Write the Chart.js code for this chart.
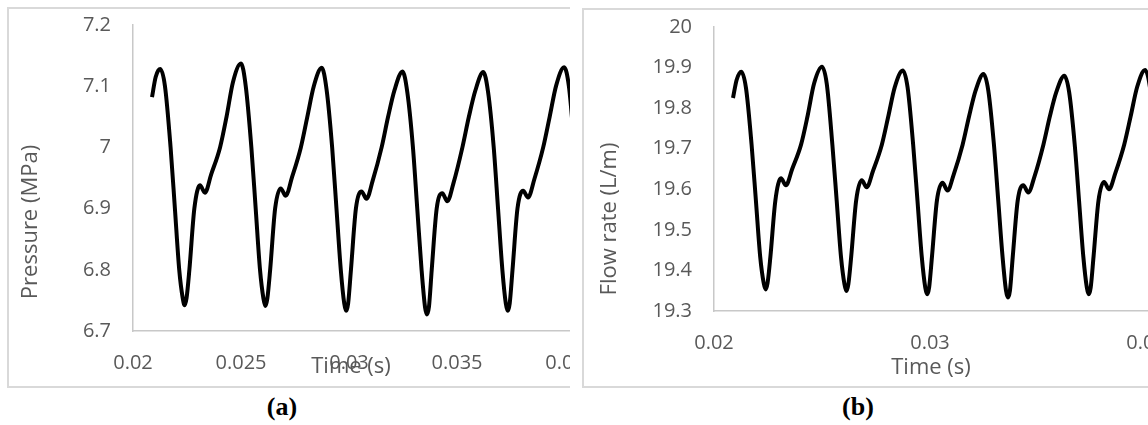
<!DOCTYPE html>
<html>
<head>
<meta charset="utf-8">
<script src="https://cdn.jsdelivr.net/npm/chart.js@4.4.1/dist/chart.umd.min.js"></script>
<style>
body { margin:0; width:1148px; height:425px; background:#fff; position:relative; overflow:hidden; }
.panel { position:absolute; border:2px solid #d9d9d9; box-sizing:border-box; overflow:hidden; }
#panelA { left:7px; top:7px; width:563px; height:381px; border-right:none; }
#panelB { left:582px; top:8px; width:620px; height:380px; border-right:none; }
.panel canvas { position:absolute; left:0; top:0; }
.caption { position:absolute; top:392px; width:80px; text-align:center; font:bold 26px "Liberation Serif", serif; color:#000; }
</style>
</head>
<body>
<div class="panel" id="panelA"><canvas id="chartA" width="620" height="377"></canvas></div>
<div class="panel" id="panelB"><canvas id="chartB" width="620" height="376"></canvas></div>
<div class="caption" style="left:242px">(a)</div>
<div class="caption" style="left:818px">(b)</div>
<script>
// time axis (s), shared by both plots
var timeS = [0.02088, 0.02105, 0.02126, 0.02148, 0.02174, 0.02194, 0.02214, 0.02230, 0.02239, 0.02248, 0.02261, 0.02284, 0.02310, 0.02333, 0.02362, 0.02403, 0.02433, 0.02463,
    0.02500, 0.02522, 0.02548, 0.02568, 0.02588, 0.02604, 0.02613, 0.02622, 0.02635, 0.02658, 0.02684, 0.02707, 0.02736, 0.02777, 0.02807, 0.02837,
    0.02874, 0.02896, 0.02922, 0.02942, 0.02962, 0.02978, 0.02987, 0.02996, 0.03009, 0.03032, 0.03058, 0.03081, 0.03110, 0.03151, 0.03181, 0.03211,
    0.03248, 0.03270, 0.03296, 0.03316, 0.03336, 0.03352, 0.03361, 0.03370, 0.03383, 0.03406, 0.03432, 0.03455, 0.03484, 0.03525, 0.03555, 0.03585,
    0.03622, 0.03644, 0.03670, 0.03690, 0.03710, 0.03726, 0.03735, 0.03744, 0.03757, 0.03780, 0.03806, 0.03829, 0.03858, 0.03899, 0.03929, 0.03959,
    0.03996, 0.04018, 0.04044];

// (a) pressure, MPa
var pressure = [7.082, 7.115, 7.128, 7.10, 7.00, 6.90, 6.80, 6.754, 6.742, 6.754, 6.80, 6.90, 6.938, 6.926, 6.956, 7.00, 7.05, 7.107,
    7.137, 7.10, 7.00, 6.90, 6.80, 6.753, 6.741, 6.753, 6.80, 6.90, 6.933, 6.921, 6.951, 7.00, 7.05, 7.100,
    7.130, 7.095, 7.00, 6.90, 6.80, 6.745, 6.733, 6.745, 6.80, 6.90, 6.928, 6.916, 6.946, 7.00, 7.05, 7.094,
    7.124, 7.09, 7.00, 6.90, 6.80, 6.739, 6.727, 6.739, 6.80, 6.90, 6.925, 6.912, 6.942, 7.00, 7.05, 7.093,
    7.123, 7.09, 7.00, 6.90, 6.80, 6.745, 6.733, 6.745, 6.80, 6.90, 6.929, 6.918, 6.948, 7.00, 7.05, 7.101,
    7.131, 7.10, 7.00];

// (b) flow rate, L/m
var flow = [19.825, 19.870, 19.890, 19.850, 19.710, 19.572, 19.433, 19.369, 19.353, 19.369, 19.433, 19.572, 19.627, 19.610, 19.650, 19.710, 19.780, 19.860,
    19.902, 19.860, 19.710, 19.572, 19.433, 19.366, 19.349, 19.366, 19.433, 19.572, 19.622, 19.605, 19.645, 19.710, 19.780, 19.852,
    19.893, 19.852, 19.710, 19.572, 19.433, 19.358, 19.341, 19.358, 19.433, 19.572, 19.616, 19.597, 19.637, 19.710, 19.780, 19.843,
    19.884, 19.843, 19.710, 19.572, 19.433, 19.350, 19.333, 19.350, 19.433, 19.572, 19.610, 19.592, 19.632, 19.710, 19.780, 19.840,
    19.880, 19.840, 19.710, 19.572, 19.433, 19.358, 19.341, 19.358, 19.433, 19.572, 19.618, 19.600, 19.640, 19.710, 19.780, 19.852,
    19.894, 19.852, 19.710];

var pressureTicks = [6.7, 6.8, 6.9, 7, 7.1, 7.2];
var flowTicks = [19.3, 19.4, 19.5, 19.6, 19.7, 19.8, 19.9, 20];
var timeTicksA = [0.02, 0.025, 0.03, 0.035, 0.04];
var timeTicksB = [0.02, 0.03, 0.04];

var TEXT = '#595959';
var AXIS = '#c8c8c8';
var FONT = '"Open Sans", sans-serif';

// axis titles are placed by hand, like the excel original
var titlePlugin = {
    id: 'handTitles',
    afterDraw: function (chart) {
        var o = chart.options.plugins.handTitles;
        var ctx = chart.ctx;
        ctx.save();
        ctx.fillStyle = TEXT;
        ctx.font = '22px ' + FONT;
        ctx.textAlign = 'center';
        ctx.textBaseline = 'middle';
        ctx.fillText(o.xText, o.xPos[0], o.xPos[1]);
        ctx.translate(o.yPos[0], o.yPos[1]);
        ctx.rotate(-Math.PI / 2);
        ctx.fillText(o.yText, 0, 0);
        ctx.restore();
    }
};

function makeChart(id, values, yTicks, xTicks, lay) {
    var pts = timeS.map(function (t, i) { return {x: t, y: values[i]}; });
    return new Chart(document.getElementById(id), {
        type: 'line',
        data: {
            datasets: [{
                data: pts,
                borderColor: '#000',
                borderWidth: 4,
                pointRadius: 0,
                fill: false,
                cubicInterpolationMode: 'monotone'
            }]
        },
        options: {
            responsive: false,
            animation: false,
            layout: {padding: {top: lay.top, right: lay.right, left: 0, bottom: 0}},
            plugins: {
                legend: {display: false},
                tooltip: {enabled: false},
                handTitles: lay.titles
            },
            scales: {
                x: {
                    type: 'linear',
                    min: 0.02,
                    max: 0.041,
                    afterBuildTicks: function (s) { s.ticks = xTicks.map(function (v) { return {value: v}; }); },
                    afterFit: function (s) { s.height = lay.xHeight; s.paddingLeft = 0; s.paddingRight = 0; },
                    grid: {display: false, drawTicks: false},
                    border: {display: true, color: AXIS, width: 1.5},
                    ticks: {color: TEXT, font: {family: FONT, size: 20}, padding: 20, maxRotation: 0,
                        callback: function (v) { return String(v); }}
                },
                y: {
                    min: yTicks[0],
                    max: yTicks[yTicks.length - 1],
                    afterBuildTicks: function (s) { s.ticks = yTicks.map(function (v) { return {value: v}; }); },
                    afterFit: function (s) { s.width = lay.yWidth; s.paddingTop = 0; s.paddingBottom = 0; },
                    grid: {display: false, drawTicks: false},
                    border: {display: true, color: AXIS, width: 1.5},
                    ticks: {color: TEXT, font: {family: FONT, size: 20}, padding: 22,
                        callback: function (v) { return String(v); }}
                }
            }
        },
        plugins: [titlePlugin]
    });
}

makeChart('chartA', pressure, pressureTicks, timeTicksA, {
    top: 16, right: 42.4, yWidth: 124, xHeight: 55,
    titles: {xText: 'Time (s)', xPos: [342, 358], yText: 'Pressure (MPa)', yPos: [22, 213]}
});

makeChart('chartB', flow, flowTicks, timeTicksB, {
    top: 17, right: 36.4, yWidth: 130, xHeight: 75,
    titles: {xText: 'Time (s)', xPos: [347, 358], yText: 'Flow rate (L/m)', yPos: [26, 209]}
});
</script>
</body>
</html>
